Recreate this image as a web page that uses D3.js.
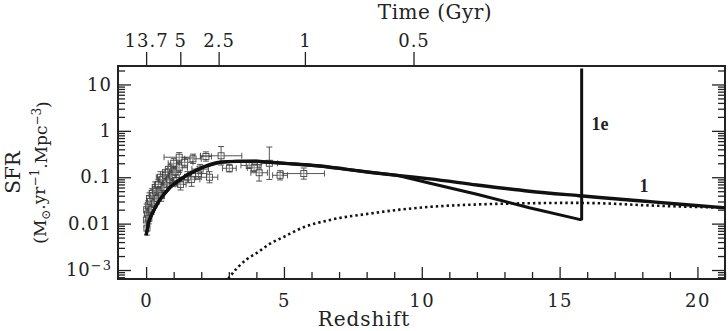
<!DOCTYPE html>
<html>
<head>
<meta charset="utf-8">
<script src="https://cdn.jsdelivr.net/npm/d3@7"></script>
<style>
  body { margin: 0; background: #fff; }
  text { font-family: "DejaVu Serif", serif; fill: #222; }
</style>
</head>
<body>
<div id="chart"></div>
<script>
// Redshift ticks and the matching cosmic time labels on the top axis
var redshiftTicks = [0, 5, 10, 15, 20];
var timeLabels = ["13.7", "5", "2.5", "1", "0.5"];
var timeRedshift = [0, 1.24, 2.63, 5.76, 9.7];
var sfrDecades = [1e-3, 0.01, 0.1, 1, 10];

// model "1" (solid)
var model1Z   = [0, 0.1, 0.27, 0.5, 0.87, 1.47, 2.07, 2.68, 3.28, 4.0, 4.5, 5.5, 6.3, 7.2, 8.1, 9.2, 10.3, 12.0, 13.9, 15.7, 16.45, 18.0, 19.5, 21];
var model1SFR = [0.0056, 0.011, 0.019, 0.033, 0.061, 0.11, 0.165, 0.21, 0.22, 0.222, 0.21, 0.19, 0.175, 0.15, 0.128, 0.108, 0.092, 0.068, 0.05, 0.04, 0.0366, 0.0307, 0.0259, 0.022];

// model "1e" (solid, with the burst at z ~ 15.8)
var model1eZ   = [0, 0.1, 0.27, 0.5, 0.87, 1.47, 2.07, 2.68, 3.28, 4.0, 4.5, 5.5, 6.3, 7.2, 8.1, 9.1, 10.3, 12.0, 13.9, 15.6, 15.75, 15.8, 15.8];
var model1eSFR = [0.0056, 0.011, 0.019, 0.033, 0.061, 0.11, 0.165, 0.21, 0.22, 0.222, 0.21, 0.19, 0.175, 0.15, 0.128, 0.11, 0.074, 0.043, 0.022, 0.0128, 0.0122, 0.0125, 22];

// dotted model
var dottedZ   = [2.97, 3.3, 3.65, 4.0, 4.5, 5.0, 5.7, 6.67, 8.1, 9.2, 10.3, 12.1, 13.9, 15.5, 16.4, 18.3, 21];
var dottedSFR = [0.00064, 0.0011, 0.0017, 0.0023, 0.0037, 0.0052, 0.0083, 0.012, 0.0164, 0.02, 0.023, 0.026, 0.0275, 0.028, 0.0275, 0.0246, 0.022];

// observations: redshift, SFR, redshift half-error, error in dex
var obsZ   = [0.01, 0.02, 0.03, 0.05, 0.08, 0.1, 0.12, 0.15, 0.2, 0.22, 0.25, 0.3, 0.33, 0.35, 0.4, 0.45, 0.5, 0.52, 0.55, 0.6, 0.65, 0.7, 0.75, 0.8, 0.85, 0.9, 0.95, 1.0, 1.05, 1.1, 1.2, 1.2, 1.25, 1.4, 1.5, 1.65, 1.7, 1.9, 1.96, 2.17, 2.3, 2.72, 3.02, 3.74, 3.92, 4.1, 4.47, 4.86, 5.72];
var obsSFR = [0.012, 0.02, 0.008, 0.016, 0.025, 0.013, 0.035, 0.03, 0.02, 0.045, 0.04, 0.028, 0.06, 0.05, 0.035, 0.07, 0.05, 0.1, 0.04, 0.09, 0.06, 0.11, 0.075, 0.13, 0.09, 0.15, 0.11, 0.2, 0.13, 0.085, 0.27, 0.16, 0.07, 0.21, 0.1, 0.09, 0.25, 0.12, 0.15, 0.28, 0.1, 0.29, 0.156, 0.18, 0.16, 0.125, 0.2, 0.11, 0.12];
var obsDz  = [0.02, 0.03, 0.02, 0.05, 0.05, 0.05, 0.1, 0.1, 0.1, 0.1, 0.1, 0.1, 0.1, 0.1, 0.1, 0.15, 0.1, 0.15, 0.1, 0.15, 0.1, 0.1, 0.15, 0.2, 0.1, 0.2, 0.15, 0.2, 0.2, 0.2, 0.55, 0.3, 0.2, 0.3, 0.3, 0.3, 0.3, 0.3, 0.3, 0.2, 0.3, 0.75, 0.25, 0.3, 0.25, 0.3, 0.3, 0.27, 0.75];
var obsDex = [0.15, 0.12, 0.15, 0.12, 0.1, 0.12, 0.12, 0.12, 0.1, 0.1, 0.12, 0.1, 0.12, 0.1, 0.12, 0.1, 0.1, 0.12, 0.12, 0.1, 0.1, 0.12, 0.1, 0.12, 0.1, 0.1, 0.1, 0.1, 0.12, 0.12, 0.1, 0.1, 0.12, 0.1, 0.12, 0.15, 0.1, 0.1, 0.1, 0.1, 0.12, 0.2, 0.08, 0.06, 0.08, 0.18, 0.35, 0.1, 0.12];

var W = 728, H = 331;
var pLeft = 118, pRight = 725, pTop = 66, pBottom = 279;

var svg = d3.select("#chart").append("svg")
    .attr("width", W)
    .attr("height", H);

var x = d3.scaleLinear().domain([-1.02, 21]).range([pLeft, pRight]);
var y = d3.scaleLog().domain([6.4e-4, 25]).range([pBottom, pTop]);

svg.append("clipPath").attr("id", "plotclip")
  .append("rect")
    .attr("x", pLeft).attr("y", pTop)
    .attr("width", pRight - pLeft).attr("height", pBottom - pTop);

// minor ticks for the log axis
var minorSFR = [];
[1e-4, 1e-3, 0.01, 0.1, 1, 10].forEach(function(d) {
    for (var k = 2; k <= 9; k++) {
        var v = d * k;
        if (v >= 6.4e-4 && v <= 25) minorSFR.push(v);
    }
});
var minorZ = d3.range(0, 22).filter(function(d) { return d % 5 !== 0; });

function cleanAxis(g) {
    g.select(".domain").remove();
    g.selectAll(".tick line").attr("stroke", "#222").attr("stroke-width", 1.3);
}

// bottom axis (ticks pointing in)
svg.append("g")
    .attr("transform", "translate(0," + pBottom + ")")
    .call(d3.axisBottom(x).tickValues(redshiftTicks).tickSize(-12).tickPadding(15).tickFormat(d3.format("d")))
    .call(cleanAxis)
    .selectAll("text").style("font-size", "18px").attr("letter-spacing", "1.5px");
svg.append("g")
    .attr("transform", "translate(0," + pBottom + ")")
    .call(d3.axisBottom(x).tickValues(minorZ).tickSize(-7).tickFormat(""))
    .call(cleanAxis);

// top axis: time
svg.append("g")
    .attr("transform", "translate(0," + pTop + ")")
    .call(d3.axisTop(x).tickValues(timeRedshift).tickSize(14).tickPadding(5)
        .tickFormat(function(d, i) { return timeLabels[i]; }))
    .call(cleanAxis)
    .selectAll("text").style("font-size", "18px").attr("letter-spacing", "1px");

// left axis
var yLeft = svg.append("g")
    .attr("transform", "translate(" + pLeft + ",0)")
    .call(d3.axisLeft(y).tickValues(sfrDecades).tickSize(-13).tickPadding(6)
        .tickFormat(function(d) { return d >= 1 ? d3.format("d")(d) : (d >= 0.01 ? String(d) : ""); }))
    .call(cleanAxis);
yLeft.selectAll("text").style("font-size", "18px").attr("letter-spacing", "1px");
yLeft.selectAll(".tick").filter(function(d) { return d === 1e-3; }).select("text")
    .call(function(t) {
        t.append("tspan").text("10");
        t.append("tspan").attr("dy", "-0.45em").style("font-size", "13px").text("\u22123");
    });
svg.append("g")
    .attr("transform", "translate(" + pLeft + ",0)")
    .call(d3.axisLeft(y).tickValues(minorSFR).tickSize(-7).tickFormat(""))
    .call(cleanAxis);

// right axis (mirrored)
svg.append("g")
    .attr("transform", "translate(" + pRight + ",0)")
    .call(d3.axisRight(y).tickValues(sfrDecades).tickSize(-13).tickFormat(""))
    .call(cleanAxis);
svg.append("g")
    .attr("transform", "translate(" + pRight + ",0)")
    .call(d3.axisRight(y).tickValues(minorSFR).tickSize(-7).tickFormat(""))
    .call(cleanAxis);

// frame
svg.append("rect")
    .attr("x", pLeft).attr("y", pTop)
    .attr("width", pRight - pLeft).attr("height", pBottom - pTop)
    .attr("fill", "none").attr("stroke", "#222").attr("stroke-width", 2);

var plot = svg.append("g").attr("clip-path", "url(#plotclip)");

// observations with error bars
var obs = obsZ.map(function(z, i) {
    return { z: z, s: obsSFR[i], dz: obsDz[i], dex: obsDex[i] };
});
var pts = plot.selectAll(".obs").data(obs).enter().append("g")
    .attr("class", "obs")
    .attr("stroke", "#444").attr("stroke-width", 0.9).attr("fill", "none");
pts.append("line")
    .attr("x1", function(d) { return x(d.z - d.dz); })
    .attr("x2", function(d) { return x(d.z + d.dz); })
    .attr("y1", function(d) { return y(d.s); })
    .attr("y2", function(d) { return y(d.s); });
pts.append("line")
    .attr("x1", function(d) { return x(d.z); })
    .attr("x2", function(d) { return x(d.z); })
    .attr("y1", function(d) { return y(d.s * Math.pow(10, -d.dex)); })
    .attr("y2", function(d) { return y(d.s * Math.pow(10, d.dex)); });
// caps
[-1, 1].forEach(function(sg) {
    pts.append("line")
        .attr("x1", function(d) { return x(d.z) - 3; })
        .attr("x2", function(d) { return x(d.z) + 3; })
        .attr("y1", function(d) { return y(d.s * Math.pow(10, sg * d.dex)); })
        .attr("y2", function(d) { return y(d.s * Math.pow(10, sg * d.dex)); });
    pts.append("line")
        .attr("x1", function(d) { return x(d.z + sg * d.dz); })
        .attr("x2", function(d) { return x(d.z + sg * d.dz); })
        .attr("y1", function(d) { return y(d.s) - 3; })
        .attr("y2", function(d) { return y(d.s) + 3; });
});
pts.append("rect")
    .attr("x", function(d) { return x(d.z) - 3; })
    .attr("y", function(d) { return y(d.s) - 3; })
    .attr("width", 6).attr("height", 6)
    .attr("fill", "#fff").attr("fill-opacity", 0.3);

// model curves
function series(zs, vs) {
    return zs.map(function(z, i) { return [z, vs[i]]; });
}
var smooth = d3.line()
    .x(function(d) { return x(d[0]); })
    .y(function(d) { return y(d[1]); })
    .curve(d3.curveMonotoneX);
var straight = d3.line()
    .x(function(d) { return x(d[0]); })
    .y(function(d) { return y(d[1]); });

plot.append("path")
    .datum(series(dottedZ, dottedSFR))
    .attr("d", smooth)
    .attr("fill", "none").attr("stroke", "#111")
    .attr("stroke-width", 2.6).attr("stroke-dasharray", "2.4 3");

plot.append("path")
    .datum(series(model1eZ, model1eSFR))
    .attr("d", straight)
    .attr("fill", "none").attr("stroke", "#111")
    .attr("stroke-width", 3).attr("stroke-linejoin", "round");

plot.append("path")
    .datum(series(model1Z, model1SFR))
    .attr("d", smooth)
    .attr("fill", "none").attr("stroke", "#111")
    .attr("stroke-width", 3.4);

// curve labels
svg.append("text")
    .attr("x", 600).attr("y", 130)
    .attr("text-anchor", "middle")
    .style("font-family", "'Liberation Serif', serif").style("font-weight", "bold").style("font-size", "18px")
    .text("1e");
svg.append("text")
    .attr("x", 644).attr("y", 192)
    .attr("text-anchor", "middle")
    .style("font-family", "'Liberation Serif', serif").style("font-weight", "bold").style("font-size", "18px")
    .text("1");

// axis titles
svg.append("text")
    .attr("x", 364).attr("y", 326)
    .attr("text-anchor", "middle")
    .style("font-size", "20px").attr("letter-spacing", "1px")
    .text("Redshift");
svg.append("text")
    .attr("x", 435).attr("y", 19)
    .attr("text-anchor", "middle")
    .style("font-size", "20px").attr("letter-spacing", "0.5px")
    .text("Time (Gyr)");

svg.append("text")
    .attr("transform", "translate(20," + ((pTop + pBottom) / 2) + ") rotate(-90)")
    .attr("text-anchor", "middle")
    .style("font-size", "20px")
    .text("SFR");
var unit = svg.append("text")
    .attr("transform", "translate(46," + ((pTop + pBottom) / 2) + ") rotate(-90)")
    .attr("text-anchor", "middle")
    .style("font-size", "17px");
unit.append("tspan").text("(M");
unit.append("tspan").attr("dy", "0.3em").style("font-size", "12px").text("\u2299");
unit.append("tspan").attr("dy", "-0.3em").text(".yr");
unit.append("tspan").attr("dy", "-0.45em").style("font-size", "12px").text("\u22121");
unit.append("tspan").attr("dy", "0.45em").text(".Mpc");
unit.append("tspan").attr("dy", "-0.45em").style("font-size", "12px").text("\u22123");
unit.append("tspan").attr("dy", "0.45em").text(")");
</script>
</body>
</html>
